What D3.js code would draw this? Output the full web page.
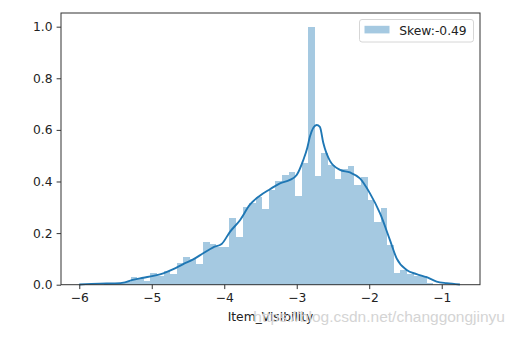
<!DOCTYPE html>
<html>
<head>
<meta charset="utf-8">
<script src="https://cdn.jsdelivr.net/npm/d3@7"></script>
<style>
  html, body { margin: 0; padding: 0; background: #fff; }
  svg { display: block; }
  text { font-family: "DejaVu Sans", sans-serif; fill: #222; }
</style>
</head>
<body>
<svg id="chart" width="516" height="340"></svg>
<script>
// Histogram of log(Item_Visibility): 50 equal bins, normalised density
const binStart = -5.655;
const binWidth = 0.0908;
const binDensity = [
  0.003, 0.004, 0.006, 0.011, 0.030, 0.025, 0.013, 0.044, 0.034, 0.054,
  0.040, 0.084, 0.106, 0.098, 0.079, 0.165, 0.157, 0.145, 0.147, 0.257,
  0.186, 0.302, 0.315, 0.339, 0.292, 0.367, 0.400, 0.424, 0.436, 0.345,
  0.470, 1.000, 0.421, 0.509, 0.465, 0.408, 0.450, 0.460, 0.386, 0.416,
  0.330, 0.244, 0.296, 0.152, 0.046, 0.056, 0.042, 0.034, 0.033, 0.006
];

// Kernel density estimate, sampled along x
const kdeX = [
  -6.00, -5.714, -5.51, -5.37, -5.277, -5.117, -4.979, -4.841, -4.703, -4.566,
  -4.428, -4.290, -4.152, -4.036, -3.921, -3.783, -3.646, -3.508, -3.370, -3.232,
  -3.094, -3.001, -2.910, -2.855, -2.818, -2.726, -2.681, -2.634, -2.542, -2.404,
  -2.266, -2.128, -1.990, -1.852, -1.714, -1.622, -1.484, -1.346, -1.208, -1.070,
  -0.932, -0.749
];
const kdeY = [
  0.001, 0.004, 0.005, 0.009, 0.018, 0.027, 0.034, 0.044, 0.060, 0.080,
  0.098, 0.122, 0.145, 0.158, 0.205, 0.250, 0.310, 0.345, 0.370, 0.393,
  0.406, 0.425, 0.483, 0.530, 0.574, 0.619, 0.612, 0.550, 0.480, 0.445,
  0.435, 0.412, 0.354, 0.277, 0.173, 0.102, 0.057, 0.041, 0.029, 0.012,
  0.006, 0.001
];

const xTicks = [-6, -5, -4, -3, -2, -1];
const yTicks = [0.0, 0.2, 0.4, 0.6, 0.8, 1.0];
const legendLabel = "Skew:-0.49";
const xLabel = "Item_Visibility";
const watermark = "https://blog.csdn.net/changgongjinyu";

const svg = d3.select("#chart");
const plot = { left: 61, right: 480, top: 13, bottom: 284.7 };

const x = d3.scaleLinear().domain([-6.252, -0.472]).range([plot.left, plot.right]);
const y = d3.scaleLinear().domain([0, 1.053]).range([plot.bottom, plot.top]);

const fontSize = "12.3px";
const blue = "#1f77b4";

// bars
const bins = binDensity.map((d, i) => ({
  x0: binStart + i * binWidth,
  x1: binStart + (i + 1) * binWidth,
  v: d
}));
svg.append("g")
  .selectAll("rect")
  .data(bins)
  .join("rect")
  .attr("x", d => x(d.x0))
  .attr("width", d => x(d.x1) - x(d.x0))
  .attr("y", d => y(d.v))
  .attr("height", d => y(0) - y(d.v))
  .attr("fill", blue)
  .attr("fill-opacity", 0.4)
  .attr("shape-rendering", "crispEdges");

// density curve
const kde = kdeX.map((v, i) => [v, kdeY[i]]);
svg.append("path")
  .datum(kde)
  .attr("fill", "none")
  .attr("stroke", blue)
  .attr("stroke-width", 1.9)
  .attr("stroke-linejoin", "round")
  .attr("d", d3.line().x(d => x(d[0])).y(d => y(d[1])).curve(d3.curveMonotoneX));

// axes
const xAxis = d3.axisBottom(x).tickValues(xTicks).tickSize(4.4).tickPadding(4)
  .tickFormat(d => d3.format("d")(d).replace("-", "\u2212"));
const yAxis = d3.axisLeft(y).tickValues(yTicks).tickSize(4.4).tickPadding(4)
  .tickFormat(d3.format(".1f"));

const gx = svg.append("g").attr("transform", `translate(0,${plot.bottom})`).call(xAxis);
const gy = svg.append("g").attr("transform", `translate(${plot.left},0)`).call(yAxis);
[gx, gy].forEach(g => {
  g.select(".domain").remove();
  g.selectAll(".tick line").attr("stroke", "#333").attr("stroke-width", 1);
  g.selectAll(".tick text")
    .style("font-family", "'DejaVu Sans', sans-serif")
    .style("font-size", fontSize)
    .attr("fill", "#222");
});

// frame
svg.append("rect")
  .attr("x", plot.left)
  .attr("y", plot.top)
  .attr("width", plot.right - plot.left)
  .attr("height", plot.bottom - plot.top)
  .attr("fill", "none")
  .attr("stroke", "#333")
  .attr("stroke-width", 1);

// x axis title
svg.append("text")
  .attr("x", (plot.left + plot.right) / 2)
  .attr("y", 321)
  .attr("text-anchor", "middle")
  .style("font-size", fontSize)
  .text(xLabel);

// legend
const lg = svg.append("g").attr("transform", "translate(359.5,19.5)");
lg.append("rect")
  .attr("width", 114).attr("height", 22.5)
  .attr("rx", 2.5)
  .attr("fill", "#fff").attr("fill-opacity", 0.8)
  .attr("stroke", "#d6d6d6").attr("stroke-width", 1);
lg.append("rect")
  .attr("x", 5).attr("y", 6.3).attr("width", 25).attr("height", 7.6)
  .attr("fill", blue).attr("fill-opacity", 0.4);
lg.append("text")
  .attr("x", 39.8).attr("y", 15.3)
  .style("font-size", fontSize)
  .text(legendLabel);

// site watermark
svg.append("text")
  .attr("x", 505)
  .attr("y", 322)
  .attr("text-anchor", "end")
  .style("font-family", "'Liberation Sans', Arial, sans-serif")
  .style("font-size", "15.5px")
  .style("fill", "#d4d4d4")
  .text(watermark);
</script>
</body>
</html>
